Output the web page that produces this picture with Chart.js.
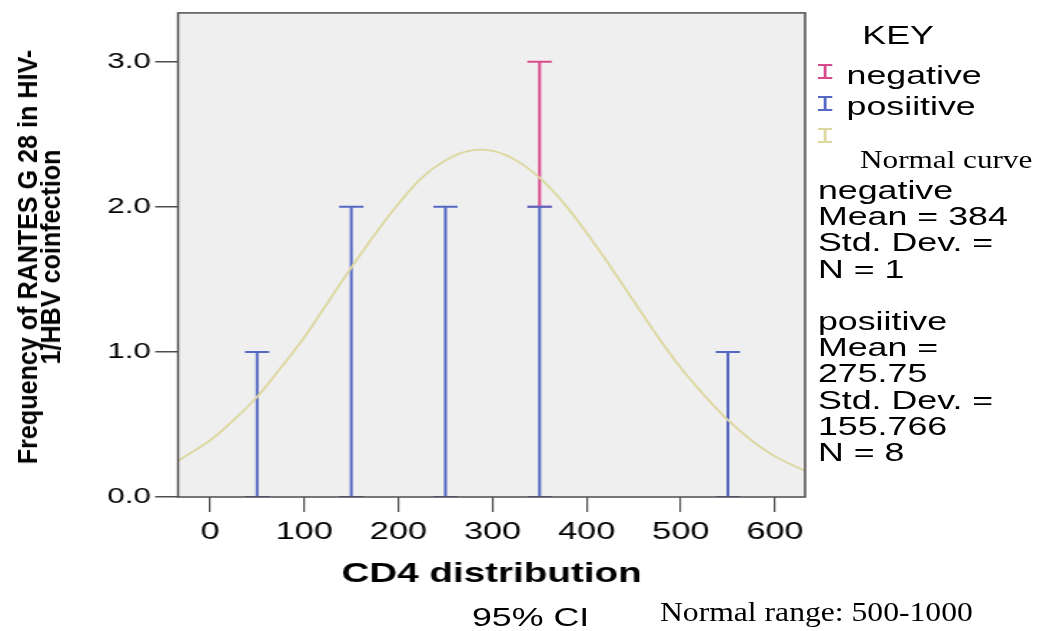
<!DOCTYPE html>
<html>
<head>
<meta charset="utf-8">
<script src="https://cdn.jsdelivr.net/npm/chart.js@4/dist/chart.umd.min.js"></script>
<style>
  body { margin: 0; background: #fff; overflow: hidden; }
  #page { position: relative; width: 1041px; height: 631px; }
  /* the reference is stretched sideways, so the chart is drawn narrow and widened */
  #wrap { position: absolute; left: 0; top: 0; width: 728px; height: 631px;
          transform: scaleX(1.43); transform-origin: 0 0; }
  #wrap canvas { position: absolute; left: 0; top: 0; }
  .sans { position: absolute; font-family: 'Liberation Sans', Arial, sans-serif; color: #000; white-space: nowrap; }
  .serif { position: absolute; font-family: 'Liberation Serif', 'Times New Roman', serif; color: #000;
           white-space: nowrap; transform-origin: 0 50%; }
  .icon { position: absolute; width: 10px; height: 15px; box-sizing: border-box;
          border-top: 2px solid; border-bottom: 2px solid; }
  .icon::after { content: ''; position: absolute; left: 4px; top: 0; width: 1.5px; height: 11px; background: currentColor; }
  #ytitle { position: absolute; width: 480px; height: 46px; left: -200px; top: 234px;
            font-family: 'Liberation Sans', Arial, sans-serif; font-weight: bold;
            font-size: 27px; line-height: 23px; text-align: center; color: #000; white-space: nowrap;
            transform: rotate(-90deg) scaleX(0.93); transform-origin: 50% 50%; }
</style>
</head>
<body>
<div id="page">
  <div id="wrap">
    <canvas id="cd4Chart" width="728" height="631"></canvas>
    <div class="sans" style="left:603px; top:21px; font-size:25px; line-height:28px;">KEY</div>
    <div class="icon" style="left:572px; top:64px; color:#d94a8c;"></div>
    <div class="sans" style="left:592px; top:61px; font-size:25px; line-height:28px;">negative</div>
    <div class="icon" style="left:572px; top:96px; color:#5468c4;"></div>
    <div class="sans" style="left:592px; top:92px; font-size:25px; line-height:28px;">posiitive</div>
    <div class="icon" style="left:572px; top:128px; color:#ddd7a0;"></div>
    <div class="sans" style="left:572px; top:177px; font-size:25px; line-height:26.2px;">
      negative<br>Mean = 384<br>Std. Dev. =<br>N = 1<br><br>posiitive<br>Mean =<br>275.75<br>Std. Dev. =<br>155.766<br>N = 8
    </div>
    <div class="sans" style="left:330px; top:603px; font-size:25px; line-height:28px;">95% CI</div>
  </div>
  <div id="ytitle">Frequency of RANTES G 28 in HIV-<br>1/HBV coinfection</div>
  <div class="serif" style="left:860px; top:145px; font-size:26px; line-height:30px; transform:scaleX(1.2);">Normal curve</div>
  <div class="serif" style="left:660px; top:596px; font-size:28px; line-height:32px; transform:scaleX(1.13);">Normal range: 500-1000</div>
</div>

<script>
// CD4 bins (midpoints) and frequencies
const cd4Mid = [50, 150, 250, 350, 550];
const positiveCount = [1, 2, 2, 2, 1];
const negativeCount = [0, 0, 0, 1, 0];

// normal curve
const curveX = [-34, 0, 25, 50, 75, 100, 125, 150, 175, 200, 225, 250, 275, 300,
                325, 350, 375, 400, 425, 450, 475, 500, 525, 550, 575, 600, 632];
const curveY = [0.25, 0.39, 0.53, 0.69, 0.89, 1.10, 1.34, 1.58, 1.81, 2.02, 2.20, 2.32, 2.385, 2.385,
                2.32, 2.20, 2.03, 1.82, 1.59, 1.35, 1.11, 0.89, 0.70, 0.53, 0.39, 0.28, 0.18];

const xTicks = [0, 100, 200, 300, 400, 500, 600];
const yTicks = [0, 1, 2, 3];

const BLUE = '#5468c4';
const PINK = '#d94a8c';
const KHAKI = '#ddd7a0';

// stems: bottom point, top point, then a gap
let positiveStems = [];
let negativeStems = [];
cd4Mid.forEach((x, i) => {
    positiveStems.push({ x: x, y: 0 }, { x: x, y: positiveCount[i] }, { x: x, y: null });
    if (negativeCount[i] > 0) {
        negativeStems.push({ x: x, y: positiveCount[i] },
                           { x: x, y: positiveCount[i] + negativeCount[i] },
                           { x: x, y: null });
    }
});

const curveData = curveX.map((x, i) => ({ x: x, y: curveY[i] }));

const plotBox = {
    id: 'plotBox',
    beforeDraw(chart) {
        const a = chart.chartArea;
        const ctx = chart.ctx;
        ctx.save();
        ctx.fillStyle = '#efefef';
        ctx.fillRect(a.left, a.top, a.right - a.left, a.bottom - a.top);
        ctx.restore();
    },
    afterDatasetsDraw(chart) {
        const a = chart.chartArea;
        const ctx = chart.ctx;
        ctx.save();
        ctx.strokeStyle = '#4d4d4d';
        ctx.lineWidth = 1.5;
        ctx.strokeRect(a.left, a.top, a.right - a.left, a.bottom - a.top);
        ctx.restore();
    }
};

const sansFamily = "'Liberation Sans', Arial, sans-serif";

new Chart(document.getElementById('cd4Chart'), {
    type: 'line',
    data: {
        datasets: [{
            label: 'Normal curve',
            data: curveData,
            borderColor: KHAKI,
            borderWidth: 1.8,
            pointRadius: 0,
            tension: 0.4,
            fill: false
        }, {
            label: 'posiitive',
            data: positiveStems,
            borderColor: BLUE,
            borderWidth: 2,
            tension: 0,
            pointStyle: 'line',
            pointRadius: 8.5,
            pointBorderWidth: 2,
            pointBorderColor: BLUE,
            spanGaps: false
        }, {
            label: 'negative',
            data: negativeStems,
            borderColor: PINK,
            borderWidth: 2,
            tension: 0,
            pointStyle: 'line',
            pointRadius: 8.5,
            pointBorderWidth: 2,
            pointBorderColor: PINK,
            spanGaps: false
        }]
    },
    options: {
        responsive: false,
        animation: false,
        layout: { padding: { top: 10, right: 165, bottom: 34, left: 0 } },
        plugins: {
            legend: { display: false },
            tooltip: { enabled: false }
        },
        scales: {
            x: {
                type: 'linear',
                min: -34,
                max: 632,
                afterBuildTicks: axis => { axis.ticks = xTicks.map(v => ({ value: v })); },
                afterFit: axis => { axis.height = 100; },
                ticks: { color: '#000', font: { family: sansFamily, size: 24 }, padding: 6, maxRotation: 0 },
                grid: { drawOnChartArea: false, tickLength: 15, color: '#4d4d4d', lineWidth: 1.2 },
                border: { display: false },
                title: {
                    display: true,
                    text: 'CD4 distribution',
                    color: '#000',
                    font: { family: sansFamily, size: 27, weight: 'bold' },
                    padding: { top: 0, bottom: 6 }
                }
            },
            y: {
                min: 0,
                max: 3.336,
                afterBuildTicks: axis => { axis.ticks = yTicks.map(v => ({ value: v })); },
                afterFit: axis => { axis.width = 124.5; },
                ticks: { color: '#000', font: { family: sansFamily, size: 22, lineHeight: 0.9 }, padding: 3, callback: v => v.toFixed(1) },
                grid: { drawOnChartArea: false, tickLength: 16, color: '#4d4d4d', lineWidth: 1.5 },
                border: { display: false }
            }
        }
    },
    plugins: [plotBox]
});
</script>
</body>
</html>
